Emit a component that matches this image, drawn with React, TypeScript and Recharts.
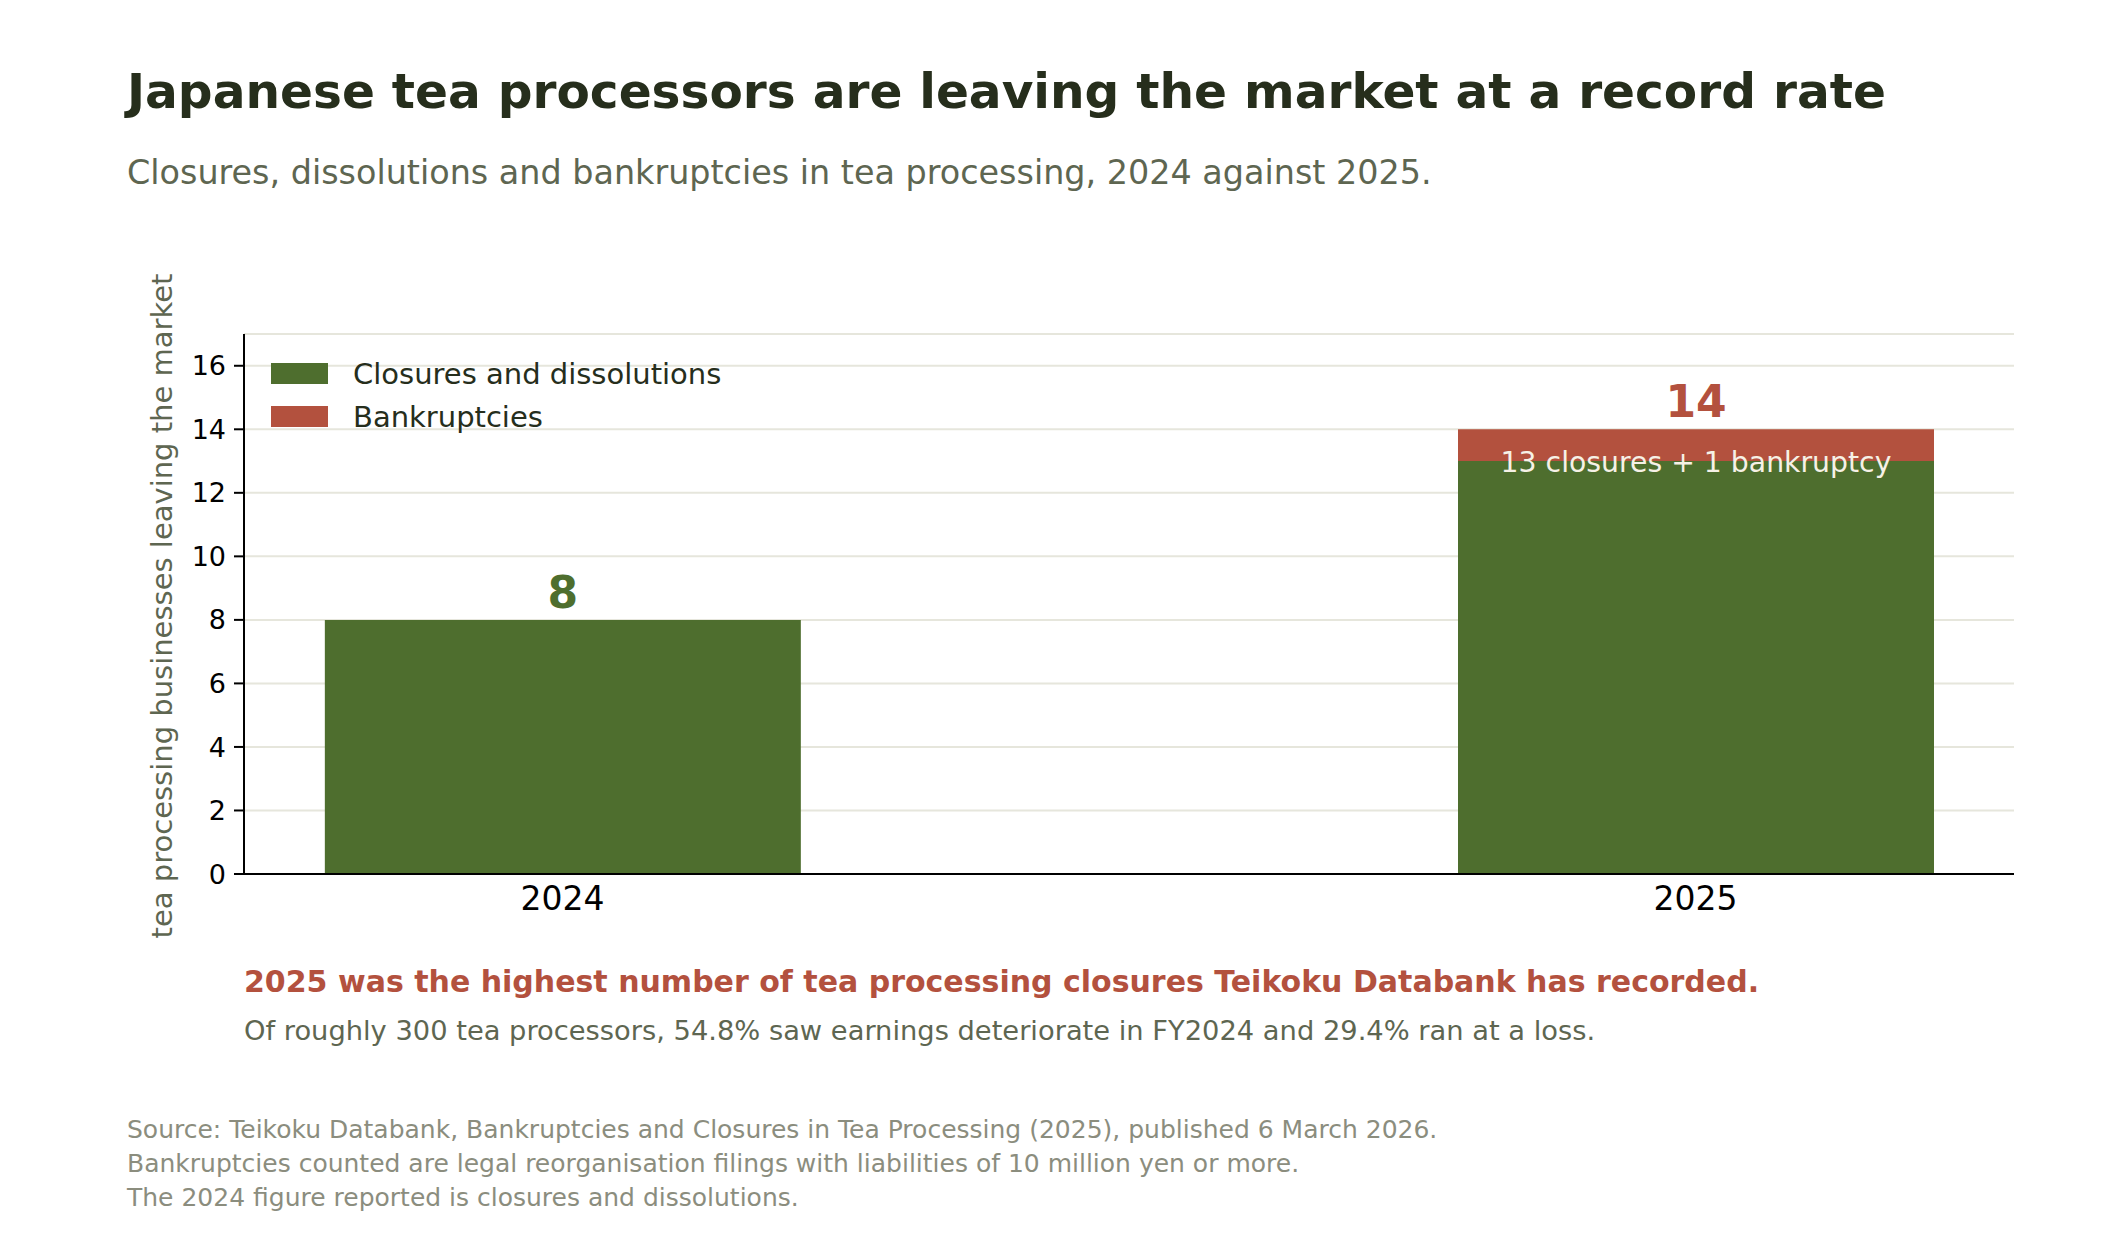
import React from "react";
import { BarChart, Bar, XAxis, YAxis, CartesianGrid, LabelList } from "recharts";

const years = ["2024", "2025"];
const closures = [8, 13];
const bankruptcies = [0, 1];
const barNotes = ["", "13 closures + 1 bankruptcy"];
const yTicks = [0, 2, 4, 6, 8, 10, 12, 14, 16];
const legendItems = ["Closures and dissolutions", "Bankruptcies"];

const GREEN = "#4e6e2e";
const RED = "#b3513e";
const INK = "#262e1c";
const MUTED = "#5e6651";
const FAINT = "#8b8d7e";
const FONT = "DejaVu Sans, Verdana, sans-serif";

const data = years.map((year, i) => ({
  pos: i,
  year,
  closures: closures[i],
  bankruptcies: bankruptcies[i],
  total: closures[i] + bankruptcies[i],
  note: barNotes[i],
}));

// sits on the closures bar; top of the stack is found from that bar's own px-per-unit
const TotalLabel = (props: any) => {
  const { x, y, width, height, index } = props;
  const row = data[index];
  if (!row) return null;
  const top = y - (row.bankruptcies * height) / row.closures;
  return (
    <text x={x + width / 2} y={top - 12} textAnchor="middle" fontFamily={FONT} fontWeight="bold" fontSize={44}
      fill={row.bankruptcies > 0 ? RED : GREEN}>
      {row.total}
    </text>
  );
};

const NoteLabel = (props: any) => {
  const { x, y, width, index } = props;
  const row = data[index];
  if (!row || !row.note) return null;
  return (
    <text x={x + width / 2} y={y + 11} textAnchor="middle" fontFamily={FONT} fontSize={28.3} fill="#f6f1e6">
      {row.note}
    </text>
  );
};

export default function App() {
  return (
    <div style={{ position: "relative", width: 2120, height: 1240, background: "#fff", fontFamily: FONT }}>
      <style>{`body{margin:0}`}</style>
      <div style={{ position: "absolute", left: 127, top: 67, fontSize: 48.6, lineHeight: 1, fontWeight: "bold", color: INK, whiteSpace: "nowrap" }}>
        Japanese tea processors are leaving the market at a record rate
      </div>
      <div style={{ position: "absolute", left: 127, top: 156, fontSize: 33.4, lineHeight: 1, color: MUTED, whiteSpace: "nowrap" }}>
        Closures, dissolutions and bankruptcies in tea processing, 2024 against 2025.
      </div>
      <div style={{ position: "absolute", left: 162, top: 606, transform: "translate(-50%,-50%) rotate(-90deg)", fontSize: 29, lineHeight: 1, color: MUTED, whiteSpace: "nowrap" }}>
        tea processing businesses leaving the market
      </div>

      <div style={{ position: "absolute", left: 0, top: 0 }}>
        <BarChart width={2120} height={1240} data={data} margin={{ top: 334, right: 106, left: 164, bottom: 326 }}>
          <CartesianGrid vertical={false} stroke="#e6e6dc" strokeWidth={2} />
          <XAxis dataKey="pos" type="number" domain={[-0.281, 1.281]} ticks={[0, 1]} allowDataOverflow
            tickFormatter={(v: number) => years[v] ?? ""} tickLine={false} tickSize={10} tickMargin={3} height={40}
            axisLine={{ stroke: "#000", strokeWidth: 2 }} tick={{ fill: "#000", fontSize: 33, fontFamily: FONT }} />
          <YAxis type="number" domain={[0, 17]} ticks={yTicks} width={80} tickSize={10} tickMargin={8}
            axisLine={{ stroke: "#000", strokeWidth: 2 }} tickLine={{ stroke: "#000", strokeWidth: 2 }}
            tick={{ fill: "#000", fontSize: 27, fontFamily: FONT }} interval={0} />
          <Bar dataKey="closures" stackId="a" fill={GREEN} barSize={476} isAnimationActive={false}>
            <LabelList dataKey="note" content={<NoteLabel />} />
            <LabelList dataKey="total" content={<TotalLabel />} />
          </Bar>
          <Bar dataKey="bankruptcies" stackId="a" fill={RED} barSize={476} isAnimationActive={false} />
        </BarChart>
      </div>

      <div style={{ position: "absolute", left: 271, top: 352, fontSize: 29, color: INK }}>
        {legendItems.map((name, i) => (
          <div key={name} style={{ display: "flex", alignItems: "center", height: 43 }}>
            <span style={{ width: 57, height: 21, background: i === 0 ? GREEN : RED, display: "inline-block", marginRight: 25 }} />
            <span>{name}</span>
          </div>
        ))}
      </div>

      <div style={{ position: "absolute", left: 244, top: 967, fontSize: 30, lineHeight: 1, fontWeight: "bold", color: RED, whiteSpace: "nowrap" }}>
        2025 was the highest number of tea processing closures Teikoku Databank has recorded.
      </div>
      <div style={{ position: "absolute", left: 244, top: 1017, fontSize: 27.3, lineHeight: 1, color: MUTED, whiteSpace: "nowrap" }}>
        Of roughly 300 tea processors, 54.8% saw earnings deteriorate in FY2024 and 29.4% ran at a loss.
      </div>
      <div style={{ position: "absolute", left: 127, top: 1113, fontSize: 25, lineHeight: "34px", color: FAINT, whiteSpace: "nowrap" }}>
        <div>Source: Teikoku Databank, Bankruptcies and Closures in Tea Processing (2025), published 6 March 2026.</div>
        <div>Bankruptcies counted are legal reorganisation filings with liabilities of 10 million yen or more.</div>
        <div>The 2024 figure reported is closures and dissolutions.</div>
      </div>
    </div>
  );
}
